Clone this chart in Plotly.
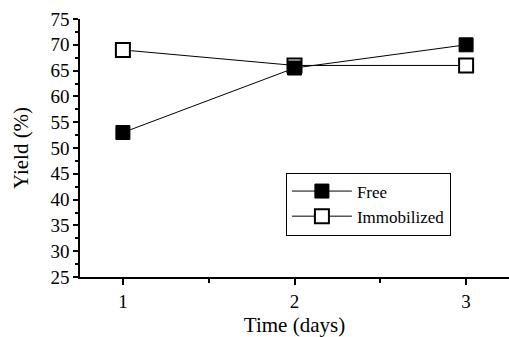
import plotly.graph_objects as go

days = [1, 2, 3]
free_yield = [53, 65.5, 70]
immobilized_yield = [69, 66, 66]
y_ticks = [25, 30, 35, 40, 45, 50, 55, 60, 65, 70, 75]
x_ticks = [1, 2, 3]

FONT = "Liberation Serif, Times New Roman, serif"

fig = go.Figure()
fig.add_trace(go.Scatter(
    x=days, y=immobilized_yield, name="Immobilized", mode="lines+markers",
    line=dict(color="black", width=1),
    marker=dict(symbol="square", size=14, color="white", line=dict(color="black", width=2)),
))
fig.add_trace(go.Scatter(
    x=days, y=free_yield, name="Free", mode="lines+markers",
    line=dict(color="black", width=1),
    marker=dict(symbol="square", size=14, color="black", line=dict(color="black", width=1)),
))

fig.update_layout(
    width=509, height=337,
    margin=dict(l=80, r=0, t=19, b=60),
    paper_bgcolor="white", plot_bgcolor="white",
    font=dict(family=FONT, size=19, color="black"),
    legend=dict(
        x=0.48, y=0.405, xanchor="left", yanchor="top",
        bordercolor="black", borderwidth=1, bgcolor="white",
        traceorder="reversed", font=dict(size=17, family=FONT),
        itemwidth=60, tracegroupgap=0,
    ),
    xaxis=dict(
        range=[0.75, 3.25], tickvals=x_ticks, ticktext=[str(t) for t in x_ticks],
        showline=True, linecolor="black", linewidth=1.5, showgrid=False, zeroline=False,
        ticks="outside", ticklen=6, tickwidth=1.5, tickcolor="black",
        minor=dict(dtick=0.5, tick0=0, ticks="outside", ticklen=4, tickcolor="black"),
        title=dict(text="Time (days)", font=dict(size=21), standoff=14),
        tickfont=dict(size=19), automargin=False,
    ),
    yaxis=dict(
        range=[25, 75], tickvals=y_ticks, ticktext=[str(t) for t in y_ticks],
        showline=True, linecolor="black", linewidth=1.5, showgrid=False, zeroline=False,
        ticks="outside", ticklen=5, tickwidth=1.5, tickcolor="black",
        minor=dict(dtick=2.5, tick0=25, ticks="outside", ticklen=3, tickcolor="black"),
        title=dict(text="Yield (%)", font=dict(size=21), standoff=16),
        tickfont=dict(size=19), automargin=False,
    ),
    showlegend=True,
)

fig.write_html("out.html")
